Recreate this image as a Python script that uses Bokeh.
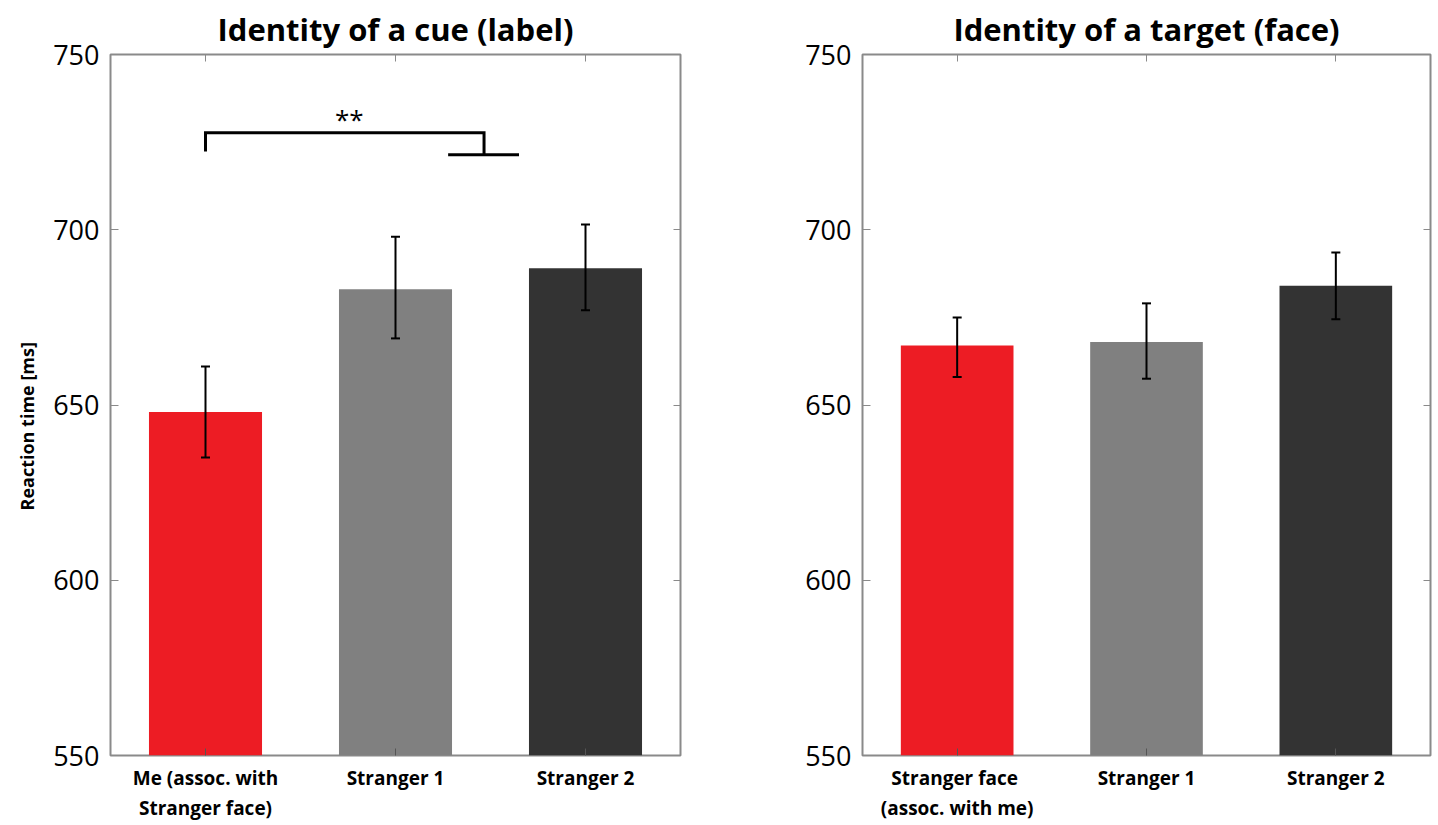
from bokeh.plotting import figure
from bokeh.models import (ColumnDataSource, FixedTicker, LinearAxis, Range1d,
                          Whisker, TeeHead, Title)
from bokeh.layouts import row
from bokeh.embed import file_html
from bokeh.resources import INLINE
from bokeh.core.properties import value

# ---------------- data ----------------
CUE_TITLE = "Identity of a cue (label)"
FACE_TITLE = "Identity of a target (face)"
Y_LABEL = "Reaction time [ms]"

CUE_CATEGORIES = ["Me (assoc. with\nStranger face)", "Stranger 1", "Stranger 2"]
CUE_MEANS = [648, 683, 689]
CUE_LOWER = [635, 669, 677]
CUE_UPPER = [661, 698, 701.5]

FACE_CATEGORIES = ["Stranger  face\n(assoc. with me)", "Stranger 1", "Stranger 2"]
FACE_MEANS = [667, 668, 684]
FACE_LOWER = [658, 657.5, 674.5]
FACE_UPPER = [675, 679, 693.5]

BAR_COLORS = ["#ED1C24", "#808080", "#333333"]
Y_TICKS = [550, 600, 650, 700, 750]
Y_MIN, Y_MAX = 550, 750

# significance bracket (cue panel): from "Me" to between Stranger 1 and 2
BRACKET_X = [1.0, 1.0, 2.466, 2.466]
BRACKET_Y = [722.3, 727.7, 727.7, 721.4]
BRACKET_BASE_X = [2.277, 2.65]
BRACKET_BASE_Y = [721.4, 721.4]
SIG_TEXT = "**"
SIG_X, SIG_Y = 1.757, 731.5

FONT = "Open Sans"
FRAME_GRAY = "#8a8a8a"
HEIGHT = 825


def make_panel(title, cats, means, lower, upper, width, border_left, border_right,
               y_label=None):
    xs = list(range(1, len(cats) + 1))
    p = figure(width=width, height=HEIGHT, x_range=Range1d(0.5, len(cats) + 0.5),
               y_range=Range1d(Y_MIN, Y_MAX), output_backend="svg",
               toolbar_location=None, min_border_left=border_left,
               min_border_right=border_right, min_border_top=47,
               min_border_bottom=70)
    p.title.text = title
    p.title.text_font = FONT
    p.title.text_font_size = "31px"
    p.title.text_font_style = "bold"
    p.title.text_color = "black"
    p.title.align = "center"
    p.title.standoff = 10

    p.grid.visible = False
    p.background_fill_color = "white"
    p.border_fill_color = "white"
    p.outline_line_color = FRAME_GRAY
    p.outline_line_width = 2
    p.outline_line_alpha = 1

    src = ColumnDataSource(dict(x=xs, top=means, lower=lower, upper=upper,
                                color=BAR_COLORS[:len(cats)],
                                base=[Y_MIN] * len(cats)))
    p.vbar(x="x", top="top", bottom="base", width=0.595, fill_color="color",
           line_color=None, source=src)

    w = Whisker(base="x", lower="lower", upper="upper", source=src,
                line_color="black", line_width=2, level="overlay",
                upper_head=TeeHead(size=9, line_width=2, line_color="black"),
                lower_head=TeeHead(size=9, line_width=2, line_color="black"))
    p.add_layout(w)

    # y axis (left)
    ya = p.yaxis[0]
    ya.ticker = FixedTicker(ticks=Y_TICKS)
    ya.axis_line_color = None
    ya.major_tick_in = 8
    ya.major_tick_out = 0
    ya.minor_tick_line_color = None
    ya.major_tick_line_color = FRAME_GRAY
    ya.major_tick_line_width = 1
    ya.major_label_text_font = FONT
    ya.major_label_text_font_size = "27px"
    ya.major_label_text_color = "black"
    ya.major_label_standoff = 11

    if y_label:
        p.add_layout(Title(text=y_label, align="left", offset=245,
                           text_font=FONT, text_font_size="18px",
                           text_font_style="bold", text_color="black",
                           standoff=24), "left")

    # x axis (bottom)
    xa = p.xaxis[0]
    xa.ticker = FixedTicker(ticks=xs)
    xa.major_label_overrides = {x: c for x, c in zip(xs, cats)}
    xa.axis_line_color = None
    xa.major_tick_in = 7
    xa.major_tick_out = 0
    xa.minor_tick_line_color = None
    xa.major_tick_line_color = "#555555"
    xa.major_label_text_font = FONT
    xa.major_label_text_font_size = "19px"
    xa.major_label_text_font_style = "bold"
    xa.major_label_text_color = "black"
    xa.major_label_text_line_height = 1.17
    xa.major_label_standoff = 9

    # right and top tick-only axes
    ra = LinearAxis(ticker=FixedTicker(ticks=Y_TICKS), axis_line_color=None,
                    major_tick_in=7, major_tick_out=0,
                    major_tick_line_color=FRAME_GRAY,
                    minor_tick_line_color=None, major_label_text_color=None,
                    major_label_text_font_size="1px", major_label_standoff=0)
    p.add_layout(ra, "right")
    ta = LinearAxis(ticker=FixedTicker(ticks=xs), axis_line_color=None,
                    major_tick_in=7, major_tick_out=0,
                    major_tick_line_color=FRAME_GRAY,
                    minor_tick_line_color=None, major_label_text_color=None,
                    major_label_text_font_size="1px", major_label_standoff=0)
    p.add_layout(ta, "above")
    return p


p1 = make_panel(CUE_TITLE, CUE_CATEGORIES, CUE_MEANS, CUE_LOWER, CUE_UPPER,
                width=771, border_left=109, border_right=91, y_label=Y_LABEL)
p1.line(BRACKET_X, BRACKET_Y, line_color="black", line_width=3,
        line_join="miter")
p1.line(BRACKET_BASE_X, BRACKET_BASE_Y, line_color="black", line_width=3)
p1.text(x=[SIG_X], y=[SIG_Y], text=[SIG_TEXT], text_font=value(FONT),
        text_font_size="26px", text_align="center", text_baseline="middle",
        text_color="black")

p2 = make_panel(FACE_TITLE, FACE_CATEGORIES, FACE_MEANS, FACE_LOWER, FACE_UPPER,
                width=661, border_left=91, border_right=2)

layout = row(p1, p2)
open("out.html", "w").write(file_html(layout, INLINE))
